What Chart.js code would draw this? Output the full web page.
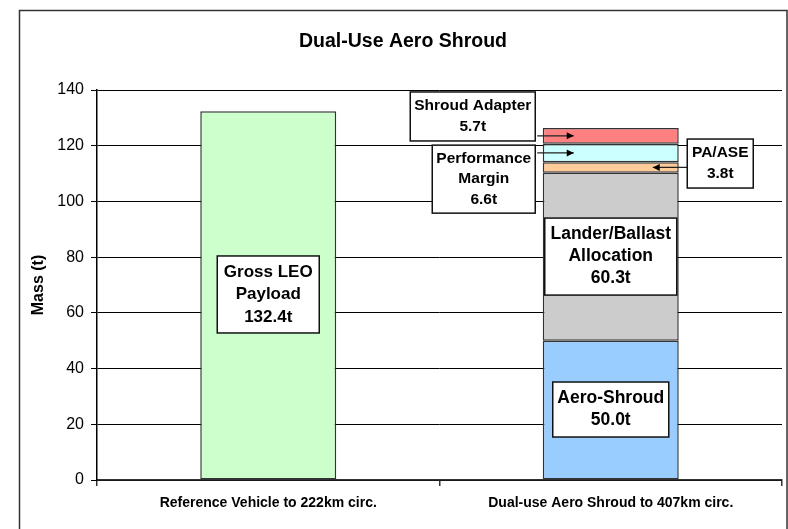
<!DOCTYPE html>
<html>
<head>
<meta charset="utf-8">
<script src="https://cdn.jsdelivr.net/npm/chart.js@4.4.1/dist/chart.umd.min.js"></script>
<style>
body{margin:0;background:#fff;}
#wrap{width:788px;height:529px;}
</style>
</head>
<body>
<div id="wrap"><canvas id="chart" width="788" height="529"></canvas></div>
<script>

// data
let categories=["Reference Vehicle to 222km circ.","Dual-use Aero Shroud to 407km circ."];
let grossPayload=[132.4,null];
let aeroShroud=[null,50.0];
let landerBallast=[null,60.3];
let paAse=[null,3.8];
let perfMargin=[null,6.6];
let shroudAdapter=[null,5.7];

let sans="'Liberation Sans', Arial, sans-serif";

// text boxes: dataset index the box talks about, bar index, centre (dx px from bar centre, y in t)
let notes=[
{lines:["Gross LEO","Payload","132.4t"],ds:0,bar:0,dx:0,y:66.6,w:102,h:77,size:17,lh:22.5},
{lines:["Lander/Ballast","Allocation","60.3t"],ds:2,bar:1,dx:0,y:80.2,w:132,h:77,size:17.5,lh:22},
{lines:["Aero-Shroud","50.0t"],ds:1,bar:1,dx:0,y:25.3,w:116,h:55,size:17.5,lh:22},
{lines:["Shroud Adapter","5.7t"],ds:5,bar:1,dx:-138,y:130.5,w:125,h:49,size:15.5,lh:21,arrow:-37},
{lines:["Performance","Margin","6.6t"],ds:4,bar:1,dx:-127,y:108.0,w:103,h:68,size:15.5,lh:20.5,arrow:-37},
{lines:["PA/ASE","3.8t"],ds:3,bar:1,dx:109.5,y:113.6,w:66,h:49,size:15.5,lh:21,arrow:42}
];

let framePlugin={
id:"frame",
beforeDraw(chart){
let c=chart.ctx;
c.save();
c.strokeStyle="#333";
c.lineWidth=1.5;
c.strokeRect(19.5,10.5,767.5,600);
c.fillStyle="#000";
c.font="bold 19.5px "+sans;
c.textAlign="center";
c.textBaseline="middle";
c.fillText("Dual-Use Aero Shroud",403,42);
c.restore();
}
};

function arrowHead(c,x,y,dir){
c.beginPath();
c.moveTo(x,y);
c.lineTo(x-dir*7,y-3.5);
c.lineTo(x-dir*7,y+3.5);
c.closePath();
c.fill();
}

let notePlugin={
id:"notes",
afterDatasetsDraw(chart){
let c=chart.ctx;
let xs=chart.scales.x,ys=chart.scales.y;
c.save();
notes.forEach(n=>{
let bx=xs.getPixelForValue(n.bar);
let cx=bx+n.dx;
let cy=ys.getPixelForValue(n.y);
let left=cx-n.w/2,top=cy-n.h/2;
if(n.arrow!==undefined){
let el=chart.getDatasetMeta(n.ds).data[n.bar];
let ay=(el.y+el.base)/2;
let tip=bx+n.arrow;
let from=n.arrow<0?left+n.w+2:left;
c.strokeStyle="#222";
c.fillStyle="#000";
c.lineWidth=1.2;
c.beginPath();
c.moveTo(from,ay);
c.lineTo(tip,ay);
c.stroke();
arrowHead(c,tip,ay,n.arrow<0?1:-1);
}
c.fillStyle="#fff";
c.fillRect(left,top,n.w,n.h);
c.strokeStyle="#111";
c.lineWidth=1.5;
c.strokeRect(left,top,n.w,n.h);
c.fillStyle="#000";
c.font="bold "+n.size+"px "+sans;
c.textAlign="center";
c.textBaseline="middle";
let y0=cy-(n.lines.length-1)*n.lh/2;
n.lines.forEach((t,i)=>c.fillText(t,cx,y0+i*n.lh));
});
c.restore();
}
};

function seg(label,data,color){
return {label:label,data:data,backgroundColor:color,borderColor:"#333",borderWidth:1.5,borderSkipped:false,stack:"s",barPercentage:0.397,categoryPercentage:1};
}

new Chart(document.getElementById("chart"),{
type:"bar",
data:{
labels:categories,
datasets:[
seg("Gross LEO Payload",grossPayload,"#ccffcc"),
seg("Aero-Shroud",aeroShroud,"#99ccff"),
seg("Lander/Ballast Allocation",landerBallast,"#cccccc"),
seg("PA/ASE",paAse,"#ffcc99"),
seg("Performance Margin",perfMargin,"#ccffff"),
seg("Shroud Adapter",shroudAdapter,"#ff8080")
]
},
options:{
responsive:false,
animation:false,
layout:{padding:{left:0,right:6,top:90,bottom:0}},
plugins:{legend:{display:false},tooltip:{enabled:false},title:{display:false}},
scales:{
x:{
stacked:true,
grid:{offset:true,drawOnChartArea:false,drawTicks:true,tickLength:6,color:"#333",lineWidth:1.5},
border:{color:"#333",width:1.5},
ticks:{color:"#000",padding:9,font:{family:sans,size:14,weight:"bold"},maxRotation:0},
afterFit(s){s.height=49;}
},
y:{
stacked:true,
min:0,max:140,
ticks:{stepSize:20,color:"#000",padding:7,font:{family:sans,size:16}},
grid:{color:"#000",lineWidth:1,tickLength:6},
border:{color:"#000",width:1.5},
title:{display:true,text:"Mass (t)",color:"#000",font:{family:sans,size:16,weight:"bold"},padding:{top:29,bottom:0}},
afterFit(s){s.width=97;}
}
}
},
plugins:[framePlugin,notePlugin]
});
</script>
</body>
</html>
